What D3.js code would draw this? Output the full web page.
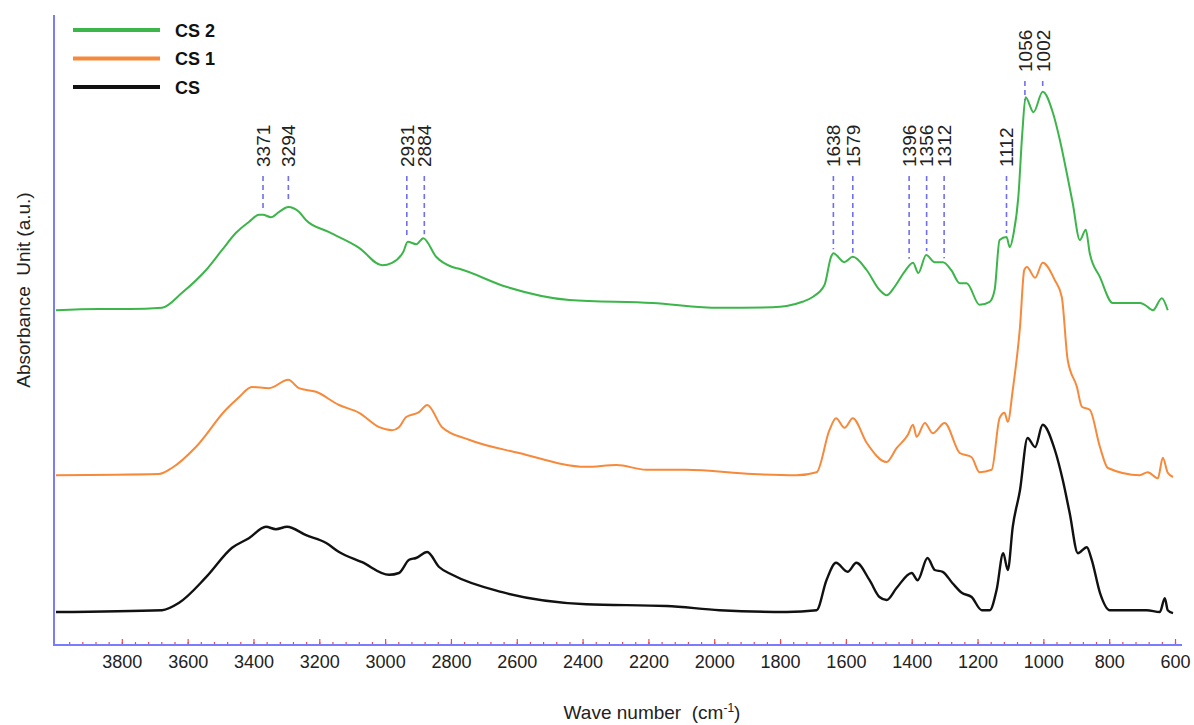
<!DOCTYPE html>
<html><head><meta charset="utf-8">
<script src="https://cdn.jsdelivr.net/npm/d3@7"></script>
<style>body{margin:0;background:#fff}svg{display:block}text{font-family:"Liberation Sans",Arial,sans-serif;white-space:pre}</style>
</head><body><svg id="c" width="1194" height="725"></svg>
<script>
// wavenumber (cm-1), absorbance (a.u., offset traces)
const cs2 = [[4000,55.8],[3870,56.0],[3779,56.0],[3678,56.2],[3617,58.7],[3544,62.5],[3496,65.8],[3453,68.7],[3414,70.5],[3383,71.7],[3371,71.7],[3347,71.3],[3322,72.2],[3294,73.0],[3262,72.2],[3240,70.8],[3170,68.8],[3079,66.2],[3009,63.3],[2979,63.7],[2945,65.5],[2931,67.2],[2905,66.8],[2884,67.8],[2845,64.7],[2796,63.0],[2775,62.7],[2632,59.7],[2440,57.5],[2188,57.0],[1984,56.2],[1823,56.3],[1780,56.5],[1732,57.2],[1701,58.0],[1665,60.0],[1645,64.7],[1638,65.3],[1605,63.8],[1579,64.7],[1537,62.5],[1498,59.2],[1476,58.3],[1452,59.7],[1422,62.2],[1396,63.7],[1380,62.0],[1356,65.0],[1330,63.8],[1305,63.8],[1280,62.5],[1254,60.3],[1233,60.3],[1194,56.7],[1163,57.2],[1148,59.2],[1133,67.5],[1112,68.0],[1102,66.3],[1090,68.7],[1076,74.7],[1064,85.3],[1054,91.3],[1030,88.8],[1002,92.2],[971,88.7],[950,84.2],[929,78.7],[911,73.7],[889,67.5],[871,69.2],[859,65.3],[828,61.3],[789,57.0],[707,57.0],[692,56.7],[667,55.8],[640,57.8],[622,55.8]];
const cs1 = [[4000,28.3],[3687,28.5],[3648,29.5],[3575,33.0],[3484,39.2],[3444,41.3],[3405,43.0],[3353,42.8],[3294,44.2],[3262,42.8],[3210,42.2],[3140,40.0],[3079,38.7],[3018,36.3],[2979,35.8],[2958,36.3],[2936,38.0],[2897,38.8],[2872,40.0],[2827,36.3],[2745,34.2],[2593,32.0],[2389,29.7],[2297,30.0],[2206,29.2],[2085,29.2],[1884,28.5],[1750,28.3],[1689,28.8],[1650,35.8],[1630,37.8],[1604,36.2],[1579,37.8],[1537,33.7],[1476,30.5],[1446,32.8],[1412,35.0],[1396,36.7],[1385,34.7],[1360,37.0],[1336,35.3],[1300,37.0],[1254,32.0],[1218,31.3],[1194,28.8],[1157,29.2],[1133,37.8],[1118,38.7],[1108,37.2],[1093,42.5],[1071,53.0],[1058,62.5],[1050,63.0],[1025,61.2],[1002,63.7],[965,60.8],[944,58.0],[926,47.5],[898,43.0],[883,39.7],[859,39.2],[828,33.0],[804,29.5],[707,28.3],[683,28.8],[652,27.8],[637,31.2],[622,28.7],[606,28.0]];
const cs0 = [[4000,5.5],[3678,5.8],[3627,7.0],[3544,11.3],[3465,16.2],[3414,17.8],[3362,19.7],[3332,19.3],[3298,19.7],[3240,18.3],[3179,17.0],[3140,15.5],[3070,13.8],[2988,11.7],[2958,12.0],[2927,14.2],[2906,14.5],[2872,15.5],[2836,13.0],[2796,11.7],[2644,8.8],[2389,6.8],[2145,6.5],[1984,5.8],[1780,5.5],[1689,5.8],[1659,10.8],[1630,13.7],[1595,12.2],[1568,13.7],[1528,10.8],[1498,8.0],[1476,7.5],[1446,9.5],[1400,12.0],[1382,10.8],[1352,14.5],[1330,12.5],[1306,12.2],[1276,10.3],[1248,8.7],[1218,8.0],[1187,5.8],[1163,5.8],[1142,9.2],[1122,15.3],[1108,12.5],[1093,19.7],[1071,25.8],[1048,34.5],[1025,33.0],[1002,36.7],[965,32.5],[941,27.5],[920,22.0],[895,15.3],[868,16.3],[853,14.2],[828,8.7],[798,5.8],[686,5.8],[646,5.5],[631,7.8],[622,5.8],[606,5.3]];
const seriesNames = ["CS 2","CS 1","CS"];
const seriesColors = ["#3cb54a","#f7893b","#111111"];
const peaks = [3371,3294,2931,2884,1638,1579,1396,1356,1312,1112,1056,1002];
const xTicks = [3800,3600,3400,3200,3000,2800,2600,2400,2200,2000,1800,1600,1400,1200,1000,800,600];

const svg = d3.select("#c");
const x = d3.scaleLinear().domain([4000,600]).range([56,1175]);
const y = d3.scaleLinear().domain([0,105]).range([645,15]);
const data = [cs2, cs1, cs0];
const FONT = "Liberation Sans, Arial, sans-serif";

// y axis line
svg.append("line").attr("x1",54).attr("x2",54).attr("y1",15).attr("y2",645).attr("stroke","#7b7bff").attr("stroke-width",2);
// ticks
const minor = d3.range(3960, 599, -40);
const gMin = svg.append("g").attr("transform","translate(0,645)")
  .call(d3.axisBottom(x).tickValues(minor).tickSize(-3).tickFormat(""));
const gMaj = svg.append("g").attr("transform","translate(0,645)")
  .call(d3.axisBottom(x).tickValues(xTicks).tickSize(-6).tickFormat(""));
[gMin,gMaj].forEach(g=>{g.select(".domain").remove(); g.selectAll(".tick line").attr("stroke","#f04848").attr("stroke-width",1.2);});
svg.append("line").attr("x1",53).attr("x2",1182).attr("y1",645).attr("y2",645).attr("stroke","#7b7bff").attr("stroke-width",2);
const gLab = svg.append("g").attr("transform","translate(0,645)")
  .call(d3.axisBottom(x).tickValues(xTicks).tickSize(0).tickPadding(10).tickFormat(d3.format("d")));
gLab.select(".domain").remove();
gLab.attr("font-size",18).attr("font-family",FONT);
gLab.selectAll("text").attr("fill","#222");

// curves
const line = d3.line().x(d=>x(d[0])).y(d=>y(d[1])).curve(d3.curveMonotoneX);
data.forEach((s,i)=>{
  svg.append("path").datum(s).attr("d",line).attr("fill","none")
    .attr("stroke",seriesColors[i]).attr("stroke-width", i===2?2.4:2).attr("stroke-linejoin","round");
});

// peak annotations
function yAt(s, v){
  for(let i=0;i<s.length-1;i++){
    const a=s[i], b=s[i+1];
    if(v<=a[0] && v>=b[0]){ const t=(a[0]-v)/(a[0]-b[0]); return a[1]+(b[1]-a[1])*t; }
  }
  return s[s.length-1][1];
}
// label layout: keep neighbouring rotated labels from overlapping
const ann = peaks.map(p=>({p, px:x(p), cy:y(yAt(cs2,p))}));
ann.forEach(a=>{ a.high = a.cy < 150; a.lx = a.px; });
const GAP = 17.5;
for(let it=0; it<60; it++){
  for(let i=0;i<ann.length-1;i++){
    const a=ann[i], b=ann[i+1];
    if(a.high!==b.high) continue;
    const d = b.lx - a.lx;
    if(d < GAP){ const m=(GAP-d)/2; a.lx-=m; b.lx+=m; }
  }
}
ann.forEach(a=>{
  const textBottom = a.high ? 72 : 167;
  const cy = y(yAt(cs2, x.invert(a.lx)));
  svg.append("line").attr("x1",a.lx).attr("x2",a.lx).attr("y1",textBottom+9).attr("y2",Math.min(cy,a.cy)-4)
    .attr("stroke","#6f6ff0").attr("stroke-width",1.6).attr("stroke-dasharray","5,4");
  svg.append("text").attr("transform",`translate(${a.lx},${textBottom}) rotate(-90)`)
    .attr("dy","0.36em").attr("font-size",19).attr("fill","#222").text(a.p);
});

// axis titles
const xt = svg.append("text").attr("x",652).attr("y",719).attr("text-anchor","middle").attr("font-size",19).attr("fill","#222");
xt.append("tspan").text("Wave number  (cm");
xt.append("tspan").attr("dy",-7).attr("font-size",12).text("-1");
xt.append("tspan").attr("dy",7).text(")");
svg.append("text").attr("transform","translate(23,290) rotate(-90)").attr("text-anchor","middle").attr("dy","0.35em")
  .attr("font-size",19).attr("fill","#222").text("Absorbance  Unit (a.u.)");

// legend
seriesNames.forEach((n,i)=>{
  const ly = 30 + i*28.5;
  svg.append("line").attr("x1",73).attr("x2",160).attr("y1",ly).attr("y2",ly).attr("stroke",seriesColors[i]).attr("stroke-width",4);
  svg.append("text").attr("x",175).attr("y",ly+6.5).attr("font-size",18).attr("font-weight","bold").attr("fill","#111").text(n);
});
</script></body></html>
